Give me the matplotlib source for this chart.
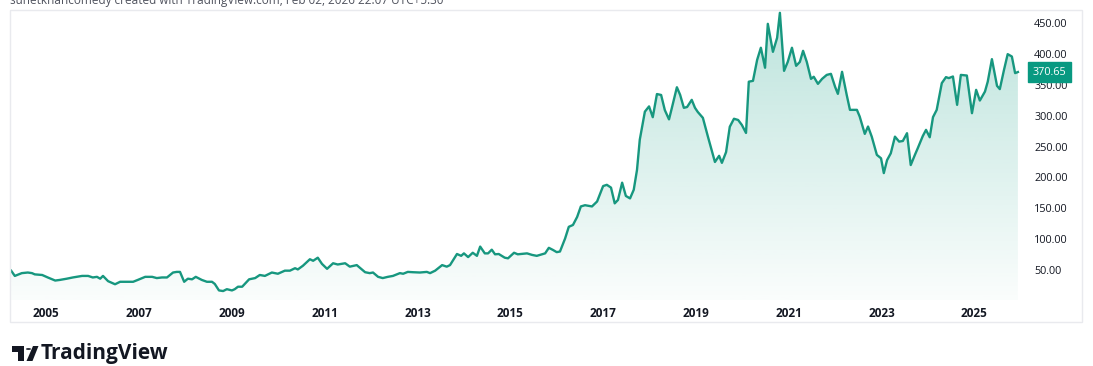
import matplotlib
matplotlib.use("Agg")
import matplotlib.pyplot as plt
import matplotlib.transforms as mtransforms
from matplotlib.patches import Rectangle, Circle, Polygon
from matplotlib.colors import LinearSegmentedColormap
import numpy as np

plt.rcParams['font.family'] = ['Open Sans', 'DejaVu Sans']

# monthly-ish closes (decimal year, price)
years = [2004.24, 2004.32, 2004.47, 2004.60, 2004.69, 2004.75, 2004.91, 2005.03,
         2005.19, 2005.29, 2005.44, 2005.57, 2005.77, 2005.90, 2006.00, 2006.09,
         2006.16, 2006.22, 2006.33, 2006.48, 2006.59, 2006.87, 2006.97, 2007.13,
         2007.28, 2007.38, 2007.49, 2007.60, 2007.73, 2007.81, 2007.88, 2007.97,
         2008.05, 2008.14, 2008.22, 2008.35, 2008.46, 2008.57, 2008.63, 2008.72,
         2008.81, 2008.89, 2009.00, 2009.06, 2009.13, 2009.22, 2009.37, 2009.50,
         2009.60, 2009.71, 2009.86, 2009.99, 2010.14, 2010.25, 2010.36, 2010.42,
         2010.53, 2010.68, 2010.75, 2010.85, 2010.94, 2011.05, 2011.18, 2011.28,
         2011.44, 2011.54, 2011.69, 2011.87, 2011.97, 2012.04, 2012.15, 2012.25,
         2012.36, 2012.47, 2012.62, 2012.69, 2012.79, 2012.90, 2013.05, 2013.20,
         2013.27, 2013.38, 2013.53, 2013.63, 2013.70, 2013.85, 2013.94, 2014.00,
         2014.09, 2014.19, 2014.28, 2014.35, 2014.45, 2014.52, 2014.60, 2014.67,
         2014.75, 2014.88, 2014.95, 2015.08, 2015.16, 2015.36, 2015.47, 2015.57,
         2015.75, 2015.83, 2015.92, 2016.00, 2016.07, 2016.18, 2016.26, 2016.35,
         2016.44, 2016.52, 2016.61, 2016.76, 2016.87, 2017.00, 2017.08, 2017.17,
         2017.25, 2017.32, 2017.41, 2017.49, 2017.58, 2017.66, 2017.73, 2017.79,
         2017.90, 2017.99, 2018.07, 2018.16, 2018.25, 2018.33, 2018.42, 2018.48,
         2018.59, 2018.66, 2018.74, 2018.81, 2018.91, 2018.98, 2019.04, 2019.15,
         2019.26, 2019.41, 2019.50, 2019.56, 2019.65, 2019.73, 2019.82, 2019.91,
         2019.99, 2020.08, 2020.14, 2020.23, 2020.32, 2020.40, 2020.49, 2020.55,
         2020.66, 2020.75, 2020.81, 2020.90, 2020.98, 2021.07, 2021.16, 2021.24,
         2021.31, 2021.39, 2021.48, 2021.54, 2021.63, 2021.72, 2021.82, 2021.91,
         2022.00, 2022.06, 2022.15, 2022.25, 2022.32, 2022.47, 2022.53, 2022.64,
         2022.71, 2022.79, 2022.90, 2022.99, 2023.05, 2023.12, 2023.20, 2023.29,
         2023.38, 2023.46, 2023.55, 2023.63, 2023.72, 2023.78, 2023.89, 2023.96,
         2024.04, 2024.11, 2024.19, 2024.30, 2024.39, 2024.45, 2024.54, 2024.63,
         2024.71, 2024.84, 2024.95, 2025.04, 2025.12, 2025.23, 2025.29, 2025.38,
         2025.49, 2025.55, 2025.64, 2025.72, 2025.81, 2025.88, 2025.94]

prices = [49, 40.5, 45, 46, 45, 43, 42, 38,
          33, 34, 36, 38, 40.5, 40.5, 38, 39,
          36, 40.5, 32, 27, 31, 31, 34, 39,
          39, 37, 38, 38, 46, 47, 47, 31,
          36, 35, 39, 34, 31, 31, 27.5, 17,
          16, 19, 17, 19, 23, 23, 35, 37,
          42, 40.5, 46, 44, 49, 49, 53, 51,
          57, 67.5, 65, 70, 60, 52, 61, 59,
          61, 55.5, 58, 46.5, 45, 46, 39, 37,
          39, 40.5, 45, 44, 47, 46.5, 46, 47,
          45, 49, 58, 55.5, 58, 76, 73, 77,
          71, 78, 73, 88, 77, 77, 83, 75.5,
          76, 70, 69, 78, 75.5, 77, 74.5, 73,
          77, 86, 82.5, 79, 80, 101, 120, 123,
          136, 153, 155, 153, 161, 186, 188, 183.5,
          158, 163.5, 191.5, 170, 166, 180, 212, 261,
          306.5, 315, 297.5, 335, 333.5, 309, 294, 312,
          346, 333.7, 312.7, 314, 325.6, 312.7, 306, 296.5,
          265.7, 225, 235, 223.6, 241, 282, 295, 293,
          285, 272, 355, 356.4, 390.4, 410, 377.6, 448.7,
          403.4, 426, 466.6, 372.6, 387.2, 410, 380.7, 387,
          405, 387, 359.6, 363, 351.5, 359.6, 366, 367.7,
          346.7, 335.3, 371, 333.7, 309.4, 309.4, 298.6, 270.5,
          282.4, 266, 236.5, 231, 207, 228, 239, 266,
          258, 259, 271.6, 220, 236.5, 247, 267, 277,
          265, 297.6, 309.4, 352.7, 362.4, 360.8, 363.4, 317.5,
          366, 365, 304, 341.8, 324.5, 339, 355, 391.5,
          348.3, 343, 374, 399.6, 395.8, 368.9, 370.65]

year_ticks = [2005, 2007, 2009, 2011, 2013, 2015, 2017, 2019, 2021, 2023, 2025]
price_ticks = [50, 100, 150, 200, 250, 300, 350, 400, 450]
last_price = prices[-1]

line_color = '#17977f'
W, H = 1093, 366

fig = plt.figure(figsize=(W / 100, H / 100), dpi=100)
fig.patch.set_facecolor('white')

# chart pane border
fig.patches.append(Rectangle((10 / W, 1 - 322 / H), 1072 / W, 312 / H,
                             transform=fig.transFigure, fill=False,
                             edgecolor='#e9eaee', linewidth=1.0))

ax = fig.add_axes([10 / W, 1 - 300 / H, 1013 / W, 290 / H])
ax.set_xlim(2004.216, 2026.05)
ax.set_ylim(1.5, 471.1)
for s in ax.spines.values():
    s.set_visible(False)

# area with vertical gradient
ax.plot(years, prices, color=line_color, linewidth=1.7, solid_joinstyle='round', zorder=3)
poly = ax.fill_between(years, prices, 1.5, color='none', linewidth=0)
grad_cmap = LinearSegmentedColormap.from_list(
    'tvgrad', [(0.03, 0.6, 0.5, 0.02), (0.03, 0.6, 0.5, 0.27)])
grad = np.linspace(0, 1, 256).reshape(-1, 1)
im = ax.imshow(grad, cmap=grad_cmap, aspect='auto', origin='lower',
               extent=[2004.216, 2026.05, 1.5, 471.1], zorder=2)
im.set_clip_path(poly.get_paths()[0], transform=ax.transData)

ax.set_xticks(year_ticks)
ax.set_xticklabels([str(y) for y in year_ticks], fontsize=8.5,
                   fontweight='bold', color='#131722')
ax.set_yticks(price_ticks)
ax.set_yticklabels([f'{p:.2f}' for p in price_ticks], fontsize=7.8, color='#131722')
ax.tick_params(axis='x', length=0, pad=5)
ax.tick_params(axis='y', length=0, pad=8, left=False, labelleft=False,
               labelright=True)

# last price marker on the price scale
trans = mtransforms.blended_transform_factory(ax.transAxes, ax.transData)
ax.text(1.0 + 10 / 1013, last_price, f'{last_price:.2f}', transform=trans,
        ha='left', va='center', fontsize=7.8, color='white', zorder=5,
        bbox=dict(boxstyle='square,pad=0.45', facecolor='#089981',
                  edgecolor='#089981'))

# header (clipped at the top like the screenshot)
fig.text(10 / W, 1 - 4 / H,
         'sunetkhancomedy created with TradingView.com, Feb 02, 2026 22:07 UTC+5:30',
         fontsize=8.5, color='#50535e', va='baseline', ha='left')

# TradingView logo
k = fig.transFigure
fy = lambda y: 1 - y / H
fig.patches.append(Rectangle((12 / W, fy(352)), 12 / W, 6 / H, transform=k,
                             facecolor='#131722', edgecolor='none'))
fig.patches.append(Rectangle((18 / W, fy(361)), 6 / W, 15 / H, transform=k,
                             facecolor='#131722', edgecolor='none'))
fig.patches.append(Circle((28.5 / W, fy(349)), 2.6 / W, transform=k,
                          facecolor='#131722', edgecolor='none'))
fig.patches.append(Polygon([(33 / W, fy(346)), (38.5 / W, fy(346)),
                            (32.5 / W, fy(361)), (26.5 / W, fy(361))],
                           closed=True, transform=k, facecolor='#131722',
                           edgecolor='none'))
fig.text(41 / W, 1 - 359.5 / H, 'TradingView', fontsize=15, fontweight='bold',
         color='#131722', va='baseline', ha='left')

fig.savefig('out.png', dpi=100, facecolor='white')
